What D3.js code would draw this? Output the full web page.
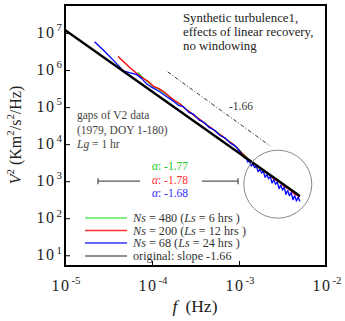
<!DOCTYPE html>
<html><head><meta charset="utf-8">
<script src="https://cdn.jsdelivr.net/npm/d3@7"></script>
<style>body{margin:0;background:#fff} text{font-family:"Liberation Serif","Times New Roman",serif}</style>
</head><body><svg id="c" width="345" height="321"></svg>
<script>
// ---- data (exponents) ----
const xTickExps = [-5, -4, -3, -2];
const yTickExps = [1, 2, 3, 4, 5, 6, 7];

const greenLogF = [-4.16,-4.10,-4.04,-3.98,-3.92,-3.86,-3.80,-3.74,-3.68,-3.62,-3.56,-3.50,-3.44,-3.38,-3.32,-3.26,-3.20,-3.14,-3.08,-3.02,-2.96,-2.90,-2.84,-2.78,-2.72,-2.66,-2.60,-2.54,-2.48,-2.42,-2.36,-2.30];
const greenLogV = [5.937,5.787,5.657,5.548,5.478,5.389,5.279,5.169,5.079,4.960,4.851,4.761,4.641,4.552,4.432,4.343,4.223,4.133,4.014,3.904,3.755,3.615,3.505,3.376,3.306,3.167,3.097,2.977,2.908,2.768,2.689,2.579];

const redLogF = [-4.39,-4.32,-4.25,-4.18,-4.11,-4.04,-3.98,-3.92,-3.86,-3.80,-3.74,-3.68,-3.62,-3.56,-3.50,-3.44,-3.38,-3.32,-3.26,-3.20,-3.14,-3.08,-3.02,-2.96,-2.90,-2.84,-2.78,-2.72,-2.66,-2.60,-2.54,-2.48,-2.42,-2.36,-2.30];
const redLogV = [6.368,6.212,6.056,5.920,5.794,5.687,5.558,5.498,5.409,5.289,5.179,5.090,4.960,4.861,4.741,4.651,4.532,4.442,4.323,4.233,4.113,4.024,3.894,3.745,3.605,3.475,3.406,3.266,3.197,3.057,2.987,2.858,2.778,2.649,2.579];

const blueLogF = [-4.66,-4.54,-4.41,-4.33,-4.25,-4.18,-4.12,-4.06,-4.00,-3.91,-3.83,-3.77,-3.70,-3.64,-3.58,-3.52,-3.46,-3.40,-3.34,-3.28,-3.22,-3.16,-3.10,-3.04,-2.98,-2.94,-2.92,-2.90,-2.88,-2.86,-2.84,-2.82,-2.80,-2.78,-2.76,-2.74,-2.72,-2.70,-2.68,-2.66,-2.64,-2.62,-2.60,-2.58,-2.56,-2.54,-2.52,-2.50,-2.48,-2.46,-2.44,-2.42,-2.40,-2.38,-2.36,-2.34,-2.32,-2.30];
const blueLogV = [6.765,6.495,6.181,5.981,5.927,5.884,5.776,5.622,5.532,5.414,5.278,5.189,5.054,5.013,4.864,4.804,4.655,4.585,4.445,4.376,4.236,4.167,4.027,3.947,3.768,3.632,3.628,3.515,3.552,3.409,3.465,3.362,3.409,3.256,3.323,3.219,3.266,3.103,3.180,3.067,3.123,2.950,3.037,2.914,2.981,2.797,2.894,2.761,2.838,2.645,2.751,2.608,2.695,2.502,2.609,2.465,2.572,2.449];

const originalLogF = [-5, -2.30];
const originalLogV = [7.081, 2.599];

const refLogF = [-3.82, -2.64];
const refLogV = [5.95, 3.95];
const refLabel = "-1.66";

const circleLogF = -2.554, circleLogV = 2.919;
const barLogF = [-4.621, -3.011];
const barLogV = 3.0;

const seriesNames = ["green", "red", "blue", "original"];
const seriesColors = ["#33e633", "#ff0000", "#0000ff", "#000000"];
const legendNs = ["480", "200", "68"];
const legendLs = ["6", "12", "24"];
const alphaValues = ["-1.77", "-1.78", "-1.68"];
const alphaColors = ["#22cc22", "#ff3030", "#3030ff"];

// ---- drawing ----
const svg = d3.select("#c");
const W = 345, H = 321;
const L = 65, R = 326, T = 5, B = 266;
const x = d3.scaleLog().domain([1e-5, 1e-2]).range([L, R]);
const y = d3.scaleLog().domain([Math.pow(10, 0.71), Math.pow(10, 7.757)]).range([B, T]);

svg.append("rect").attr("width", W).attr("height", H).attr("fill", "#fff");

svg.append("defs").append("clipPath").attr("id", "clip")
  .append("rect").attr("x", L).attr("y", T).attr("width", R - L).attr("height", B - T);

function rich(sel, parts, size) {
  parts.forEach(p => {
    const ts = sel.append("tspan").text(p.t);
    if (p.i) ts.attr("font-style", "italic");
    if (p.sup) ts.attr("dy", -size * 0.42).attr("font-size", size * 0.68);
    if (p.down) ts.attr("dy", size * 0.42);
    if (p.dx) ts.attr("dx", p.dx);
    if (p.ls) ts.attr("letter-spacing", p.ls);
  });
}

// axes ticks (inward)
svg.append("g").attr("transform", `translate(${L},0)`)
  .call(d3.axisLeft(y).tickValues(yTickExps.map(e => Math.pow(10, e))).tickSize(-5).tickFormat(""))
  .call(g => { g.select(".domain").remove(); g.selectAll("line").attr("stroke", "#000").attr("stroke-width", 1); });
svg.append("g").attr("transform", `translate(0,${B})`)
  .call(d3.axisBottom(x).tickValues(xTickExps.map(e => Math.pow(10, e))).tickSize(-5).tickFormat(""))
  .call(g => { g.select(".domain").remove(); g.selectAll("line").attr("stroke", "#000").attr("stroke-width", 1); });

// tick labels
yTickExps.forEach(e => {
  const t = svg.append("text").attr("x", 62).attr("y", y(Math.pow(10, e)) + 5)
    .attr("text-anchor", "end").attr("font-size", 16).attr("fill", "#222");
  rich(t, [{t: "10", ls: 1.5}, {t: String(e), sup: true, dx: 1}], 16);
});
xTickExps.forEach(e => {
  const t = svg.append("text").attr("x", x(Math.pow(10, e)) + 1).attr("y", 291)
    .attr("text-anchor", "middle").attr("font-size", 16).attr("fill", "#222");
  rich(t, [{t: "10", ls: 1.5}, {t: String(e), sup: true, dx: 1}], 16);
});

// axis titles
const yl = svg.append("text").attr("transform", "translate(21,135) rotate(-90)")
  .attr("text-anchor", "middle").attr("font-size", 16).attr("fill", "#222");
rich(yl, [{t: "V", i: true}, {t: "2", sup: true}, {t: " (Km", down: true}, {t: "2", sup: true}, {t: "/s", down: true}, {t: "2", sup: true}, {t: "/Hz)", down: true}], 16);
const xl = svg.append("text").attr("x", 195).attr("y", 312)
  .attr("text-anchor", "middle").attr("font-size", 17.5).attr("fill", "#222");
rich(xl, [{t: "f", i: true}, {t: "(Hz)", dx: 8}], 17.5);

// data lines
const line = d3.line().x(d => x(Math.pow(10, d[0]))).y(d => y(Math.pow(10, d[1])));
const plot = svg.append("g").attr("clip-path", "url(#clip)");
const zipS = (a, b) => a.map((v, i) => [v, b[i]]);
const seriesData = [zipS(greenLogF, greenLogV), zipS(redLogF, redLogV), zipS(blueLogF, blueLogV), zipS(originalLogF, originalLogV)];
seriesData.forEach((d, i) => {
  plot.append("path").datum(d).attr("d", line).attr("fill", "none")
    .attr("stroke", seriesColors[i]).attr("stroke-width", i === 3 ? 2.3 : 1.3)
    .attr("stroke-linejoin", "round");
});

// reference dash-dot line
plot.append("path").datum(zipS(refLogF, refLogV)).attr("d", line).attr("fill", "none")
  .attr("stroke", "#000").attr("stroke-width", 0.8).attr("stroke-dasharray", "4,2,1,2");
svg.append("text").attr("x", 241).attr("y", 110).attr("text-anchor", "middle")
  .attr("font-size", 11.5).attr("fill", "#333").text(refLabel);

// circle
svg.append("circle").attr("cx", x(Math.pow(10, circleLogF))).attr("cy", y(Math.pow(10, circleLogV)))
  .attr("r", 34).attr("fill", "none").attr("stroke", "#888").attr("stroke-width", 1);

// range bar
const by = y(Math.pow(10, barLogV));
const bx0 = x(Math.pow(10, barLogF[0])), bx1 = x(Math.pow(10, barLogF[1]));
const barG = svg.append("g").attr("stroke", "#555").attr("stroke-width", 1.3);
barG.append("line").attr("x1", bx0).attr("x2", 140).attr("y1", by).attr("y2", by);
barG.append("line").attr("x1", 202).attr("x2", bx1).attr("y1", by).attr("y2", by);
barG.append("line").attr("x1", bx0).attr("x2", bx0).attr("y1", by - 3).attr("y2", by + 3);
barG.append("line").attr("x1", bx1).attr("x2", bx1).attr("y1", by - 3).attr("y2", by + 3);

// alpha labels
const alphaY = [170, 184, 197];
alphaValues.forEach((v, i) => {
  const t = svg.append("text").attr("x", 152).attr("y", alphaY[i]).attr("font-size", 11.5).attr("fill", alphaColors[i]);
  rich(t, [{t: "α", i: true}, {t: ": " + v}], 11.5);
});

// top-right annotation
["Synthetic turbulence1,", "effects of linear recovery,", "no windowing"].forEach((s, i) => {
  svg.append("text").attr("x", 183).attr("y", 22 + i * 14).attr("font-size", 12.8).attr("fill", "#222").text(s);
});

// left annotation
const la = [[{t: "gaps of V2 data"}], [{t: "(1979, DOY 1-180)"}], [{t: "Lg", i: true}, {t: " = 1 hr"}]];
la.forEach((parts, i) => {
  const t = svg.append("text").attr("x", 77).attr("y", 119 + i * 14.5).attr("font-size", 11.5).attr("fill", "#444");
  rich(t, parts, 11.5);
});

// legend
const legY = [218, 230.5, 243, 256];
seriesNames.forEach((n, i) => {
  svg.append("line").attr("x1", 85).attr("x2", 127).attr("y1", legY[i]).attr("y2", legY[i])
    .attr("stroke", i === 3 ? "#222" : seriesColors[i]).attr("stroke-width", i === 3 ? 1.2 : 1.6)
    .attr("opacity", i === 3 ? 1 : 0.8);
  const t = svg.append("text").attr("x", 133).attr("y", legY[i] + 4).attr("font-size", 12.2).attr("fill", "#333");
  if (i < 3) rich(t, [{t: "Ns", i: true}, {t: " = " + legendNs[i] + " ("}, {t: "Ls", i: true}, {t: " = " + legendLs[i] + " hrs )"}], 12.2);
  else rich(t, [{t: "original: slope -1.66"}], 12.2);
});

// frame
svg.append("rect").attr("x", L).attr("y", T).attr("width", R - L).attr("height", B - T)
  .attr("fill", "none").attr("stroke", "#000").attr("stroke-width", 2);
</script></body></html>
